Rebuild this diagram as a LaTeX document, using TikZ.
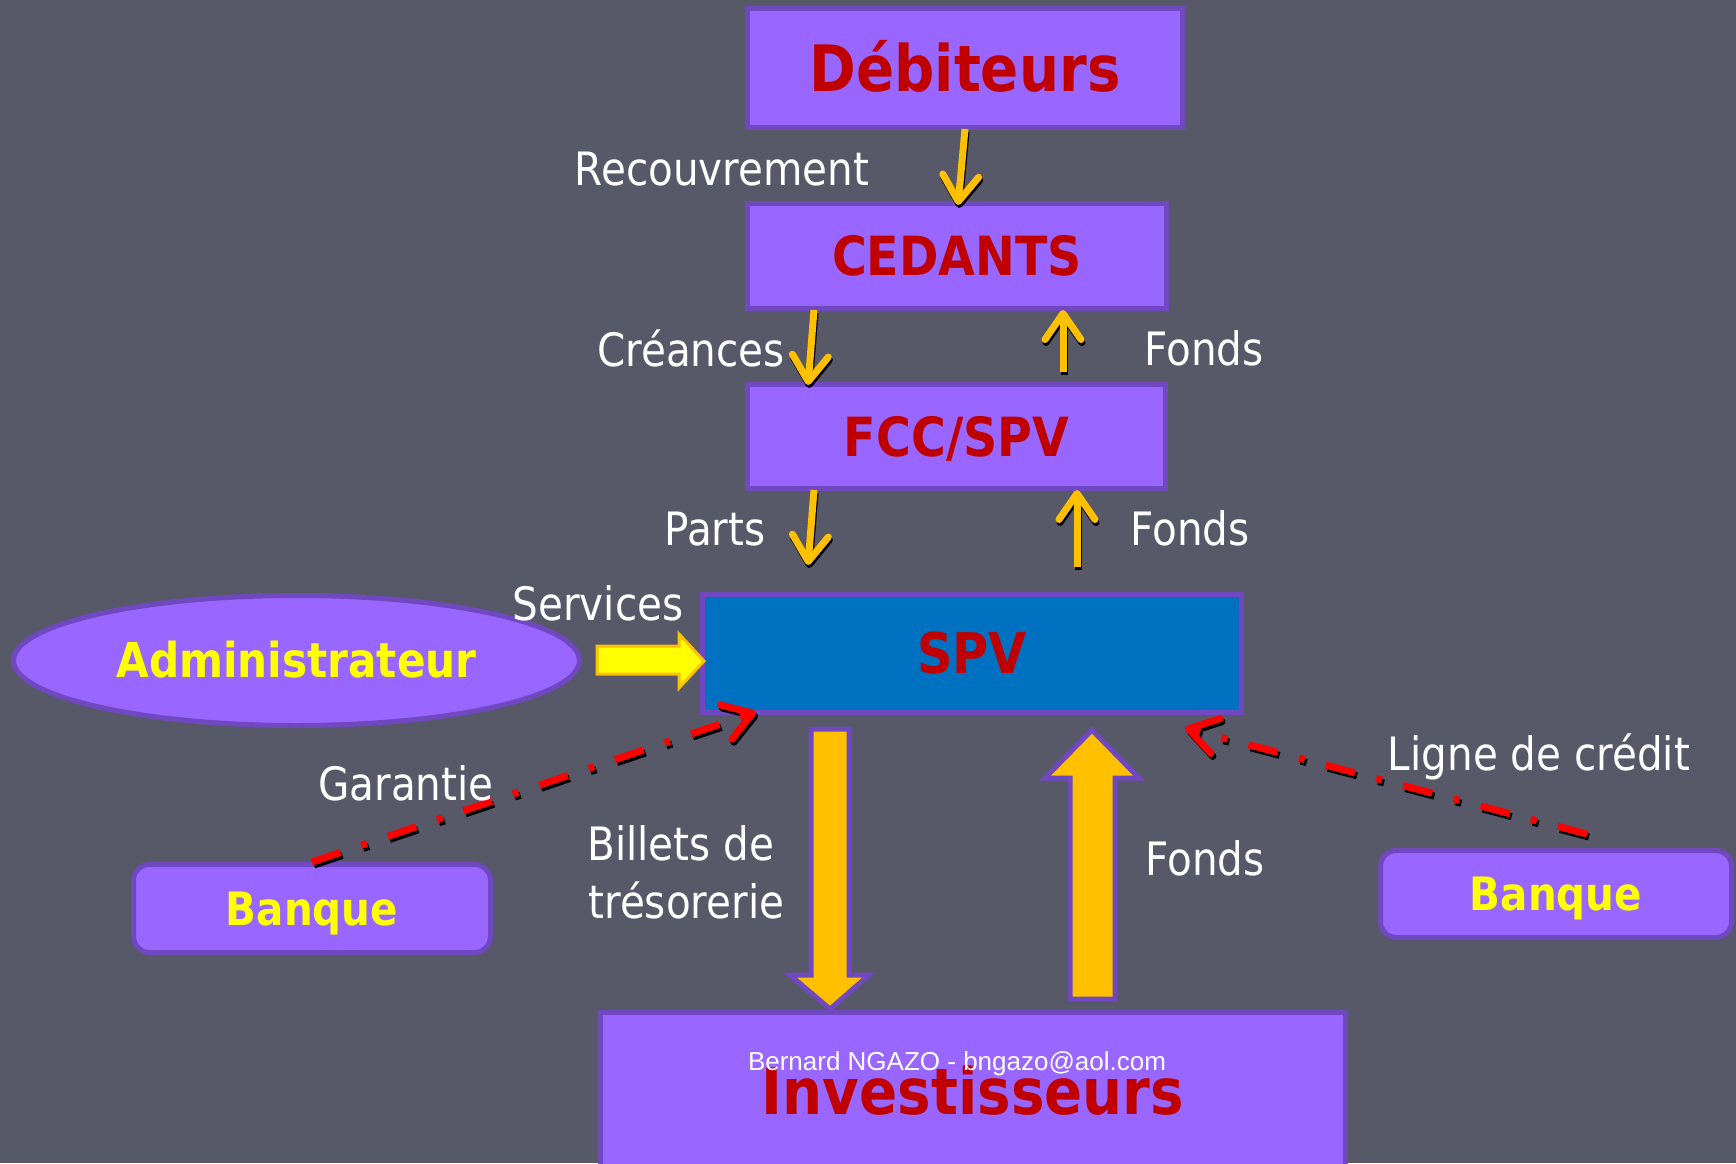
\documentclass[tikz,border=0pt]{standalone}
\usepackage{fontspec}
\setmainfont{DejaVu Sans}[FakeStretch=0.88]
\newfontfamily\footfont{Liberation Sans}
\usetikzlibrary{arrows.meta,calc,shapes.geometric}
\definecolor{bgc}{RGB}{87,89,105}
\definecolor{boxfill}{HTML}{9966FF}
\definecolor{boxline}{RGB}{112,72,192}
\definecolor{titlered}{HTML}{C00000}
\definecolor{spvblue}{HTML}{0070C0}
\definecolor{gold}{HTML}{FFC000}
\definecolor{yel}{HTML}{FFFF00}
\begin{document}
\begin{tikzpicture}[x=0.5pt,y=-0.5pt,
  box/.style={draw=boxline, line width=2.5pt, fill=boxfill, inner sep=0pt, text depth=0pt},
  redtxt/.style={text=titlered},
  yeltxt/.style={text=yel},
  lbl/.style={text=white, font=\fontsize{23}{27}\selectfont, anchor=base, inner sep=0pt},
  smallarrow/.style={line width=3.5pt, -{Straight Barb[length=13pt,width=18pt,round]}},
  dasharrow/.style={line width=3.5pt, dash pattern=on 15pt off 11pt on 3pt off 11pt,
    -{Straight Barb[length=14pt,width=18pt,round]}},
  blockarrow/.style={fill=gold, draw=boxline, line width=2.5pt, line join=miter},
]
\useasboundingbox (0,0) rectangle (1736,1163);
\clip (0,0) rectangle (1736,1163);
\fill[bgc] (0,0) rectangle (1736,1163);

% boxes
\node[box, redtxt, minimum width=217.5pt, minimum height=59.5pt, text height=23.3pt, font=\bfseries\fontsize{32}{36}\selectfont] (deb) at (965,68) {Débiteurs};
\node[box, redtxt, minimum width=209.5pt, minimum height=52.5pt, text height=19.7pt, font=\bfseries\fontsize{27}{31}\selectfont] (ced) at (957,256) {CEDANTS};
\node[box, redtxt, minimum width=209pt, minimum height=52pt, text height=19.7pt, font=\bfseries\fontsize{27}{31}\selectfont] (fcc) at (956.5,436.5) {FCC/SPV};
\node[box, redtxt, fill=spvblue, minimum width=269.5pt, minimum height=59pt, text height=20.4pt, font=\bfseries\fontsize{28}{32}\selectfont] (spv) at (972,653.5) {SPV};
\node[box, ellipse, yeltxt, minimum width=283pt, minimum height=65pt, text height=17.4pt, font=\bfseries\fontsize{24}{28}\selectfont] (adm) at (296.5,660.5) {Administrateur};
\node[box, yeltxt, rounded corners=8pt, minimum width=178.5pt, minimum height=44pt, text height=16.8pt, font=\bfseries\fontsize{23}{27}\selectfont] (bl) at (312,908.5) {Banque};
\node[box, yeltxt, rounded corners=8pt, minimum width=175.5pt, minimum height=43.5pt, text height=16.8pt, font=\bfseries\fontsize{23}{27}\selectfont] (br) at (1556,894) {Banque};
\node[box, redtxt, minimum width=372.5pt, minimum height=78.5pt, text height=23.3pt, font=\bfseries\fontsize{32}{36}\selectfont] (inv) at (973,1091) {Investisseurs};

% small yellow arrows (with shadow)
\coordinate (a1s) at ($(deb.south)+(0,-1)$);
\coordinate (a1e) at ($(ced.north)+(1,4)$);
\coordinate (a2s) at ($(ced.south west)+(69,-1)$);
\coordinate (a2e) at ($(fcc.north west)+(63,3)$);
\coordinate (a3s) at ($(fcc.north west)+(318,-10)$);
\coordinate (a3e) at ($(ced.south west)+(318,-1)$);
\coordinate (a4s) at ($(fcc.south west)+(69,-1)$);
\coordinate (a4e) at ($(spv.north west)+(108,-27)$);
\coordinate (a5s) at ($(spv.north west)+(377,-25)$);
\coordinate (a5e) at ($(fcc.south west)+(332,-1)$);
\foreach \i in {1,...,5}{
  \draw[smallarrow, black] ($(a\i s)+(1,3)$) -- ($(a\i e)+(1,3)$);
  \draw[smallarrow, gold] (a\i s) -- (a\i e);
}

% big block arrows
\draw[blockarrow] (811,729) -- (849,729) -- (849,975) -- (869,975) -- (830,1009) -- (790,975) -- (811,975) -- cycle;
\draw[blockarrow] (1070,999) -- (1070,778) -- (1045,778) -- (1092,730) -- (1139,778) -- (1115,778) -- (1115,999) -- cycle;

% services arrow
\draw[fill=yel, draw=gold, line width=1.5pt] (597,646) -- (679,646) -- (679,634) -- (704,661) -- (679,688) -- (679,674) -- (597,674) -- cycle;

% dash-dot red arrows
\coordinate (gtip) at (756,712);
\coordinate (lstart) at (1587,834);
\coordinate (ltip) at (1185,728);
\draw[dasharrow, black] ($(bl.north)+(2,3)$) -- ($(gtip)+(2,3)$);
\draw[dasharrow, red] (bl.north) -- (gtip);
\draw[dasharrow, black] ($(lstart)+(2,3)$) -- ($(ltip)+(2,3)$);
\draw[dasharrow, red] (lstart) -- (ltip);

% labels
\node[lbl] (lrec) at (722,185) {Recouvrement};
\node[lbl] (lcre) at (691,366) {Créances};
\node[lbl] (lf1) at (1204,365) {Fonds};
\node[lbl] (lpar) at (715,545) {Parts};
\node[lbl] (lf2) at (1190,545) {Fonds};
\node[lbl] (lser) at (598,620) {Services};
\node[lbl] (lgar) at (406,800) {Garantie};
\node[lbl, anchor=base west] (lbil) at (587,860) {Billets de};
\node[lbl, anchor=base west] (ltre) at (588,918) {trésorerie};
\node[lbl] (lf3) at (1205,875) {Fonds};
\node[lbl] (llig) at (1539,770) {Ligne de crédit};

% footer
\node[text=white, anchor=base, inner sep=0pt, font=\footfont\fontsize{13}{15}\selectfont] (foot) at (957,1070) {Bernard NGAZO - bngazo@aol.com};
\end{tikzpicture}
\end{document}
